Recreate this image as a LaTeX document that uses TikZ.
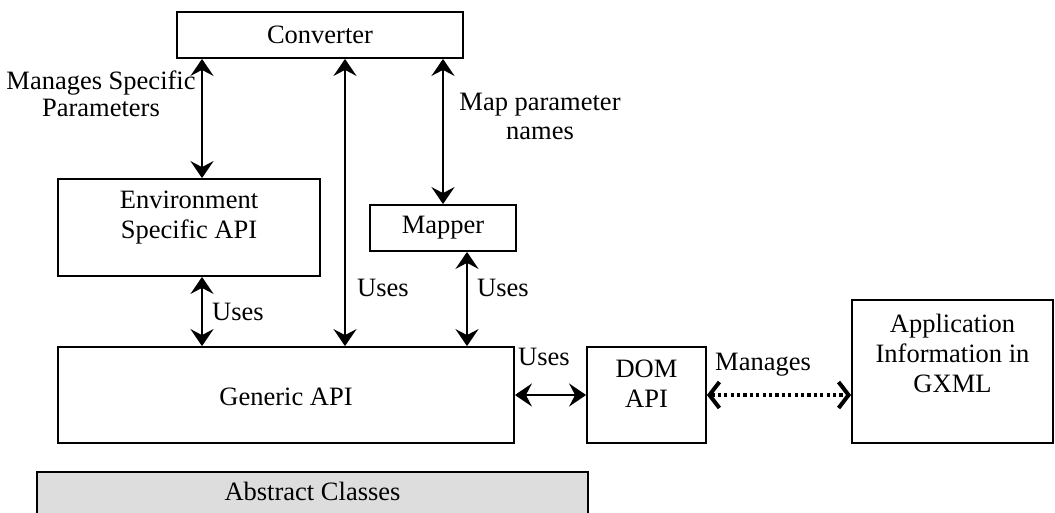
\documentclass[tikz,border=0pt]{standalone}
\usepackage{fontspec}
\setmainfont{Liberation Serif}
\usetikzlibrary{arrows.meta}
\definecolor{absgray}{HTML}{DDDDDD}
\tikzset{
  box/.style={draw, line width=1.8pt, inner sep=0pt},
  txt/.style={align=center, inner sep=0pt, font=\fontsize{26.5}{30}\selectfont},
  link/.style={line width=2pt, {Stealth[length=17pt, width=23pt, inset=6pt]}-{Stealth[length=17pt, width=23pt, inset=6pt]}},
  dotlink/.style={line width=3.5pt, dash pattern=on 3.2pt off 3.2pt,
    {Straight Barb[length=10pt, width=26pt, line width=4pt]}-{Straight Barb[length=10pt, width=26pt, line width=4pt]}}
}
\begin{document}
\begin{tikzpicture}[x=1pt, y=-1pt]
\useasboundingbox (0,0) rectangle (1055,512);

% boxes
\node[box, minimum width=286pt, minimum height=46pt] (conv) at (320,35) {};
\node[txt] (convt) at (conv.center) {Converter};
\node[box, minimum width=262pt, minimum height=97pt] (env) at (189,227.5) {};
\node[txt] (envt) at (189,218) {Environment\\Specific API};
\node[box, minimum width=146pt, minimum height=46pt] (map) at (443,228) {};
\node[txt] (mapt) at (map.center) {Mapper};
\node[box, minimum width=456pt, minimum height=96pt] (gen) at (286,395) {};
\node[txt] (gent) at (286,397) {Generic API};
\node[box, minimum width=119pt, minimum height=96pt] (dom) at (646.5,395) {};
\node[txt] (domt) at (646.5,384) {DOM\\API};
\node[box, minimum width=201pt, minimum height=143pt] (app) at (952.5,371.5) {};
\node[txt] (appt) at (952.5,353) {Application\\Information in\\GXML};
\node[box, fill=absgray, minimum width=551pt, minimum height=50pt] (abs) at (312.5,497) {};
\node[txt] (abst) at (312.5,491) {Abstract Classes};

% connectors
\draw[link] (conv.south -| 202,0) -- (env.north -| 202,0);
\draw[link] (conv.south -| 345,0) -- (gen.north -| 345,0);
\draw[link] (conv.south -| map.north) -- (map.north);
\draw[link] (env.south -| 202,0) -- (gen.north -| 202,0);
\draw[link] (map.south -| 467,0) -- (gen.north -| 467,0);
\draw[link] (gen.east) -- (dom.west);
\draw[dotlink] (dom.east) -- (app.west |- dom.east);

% connector labels
\node[txt, font=\fontsize{26.5}{27}\selectfont] (lmsp) at (101,94) {Manages Specific\\Parameters};
\node[txt, font=\fontsize{26.5}{29}\selectfont] (lmap) at (540,116) {Map parameter\\names};
\node[txt, anchor=west] (lu1) at (212,312) {Uses};
\node[txt, anchor=west] (lu2) at (357,288) {Uses};
\node[txt, anchor=west] (lu3) at (477,288) {Uses};
\node[txt, anchor=west] (lu4) at (518,357) {Uses};
\node[txt, anchor=west] (lman) at (715,365) {Manages};
\end{tikzpicture}
\end{document}
